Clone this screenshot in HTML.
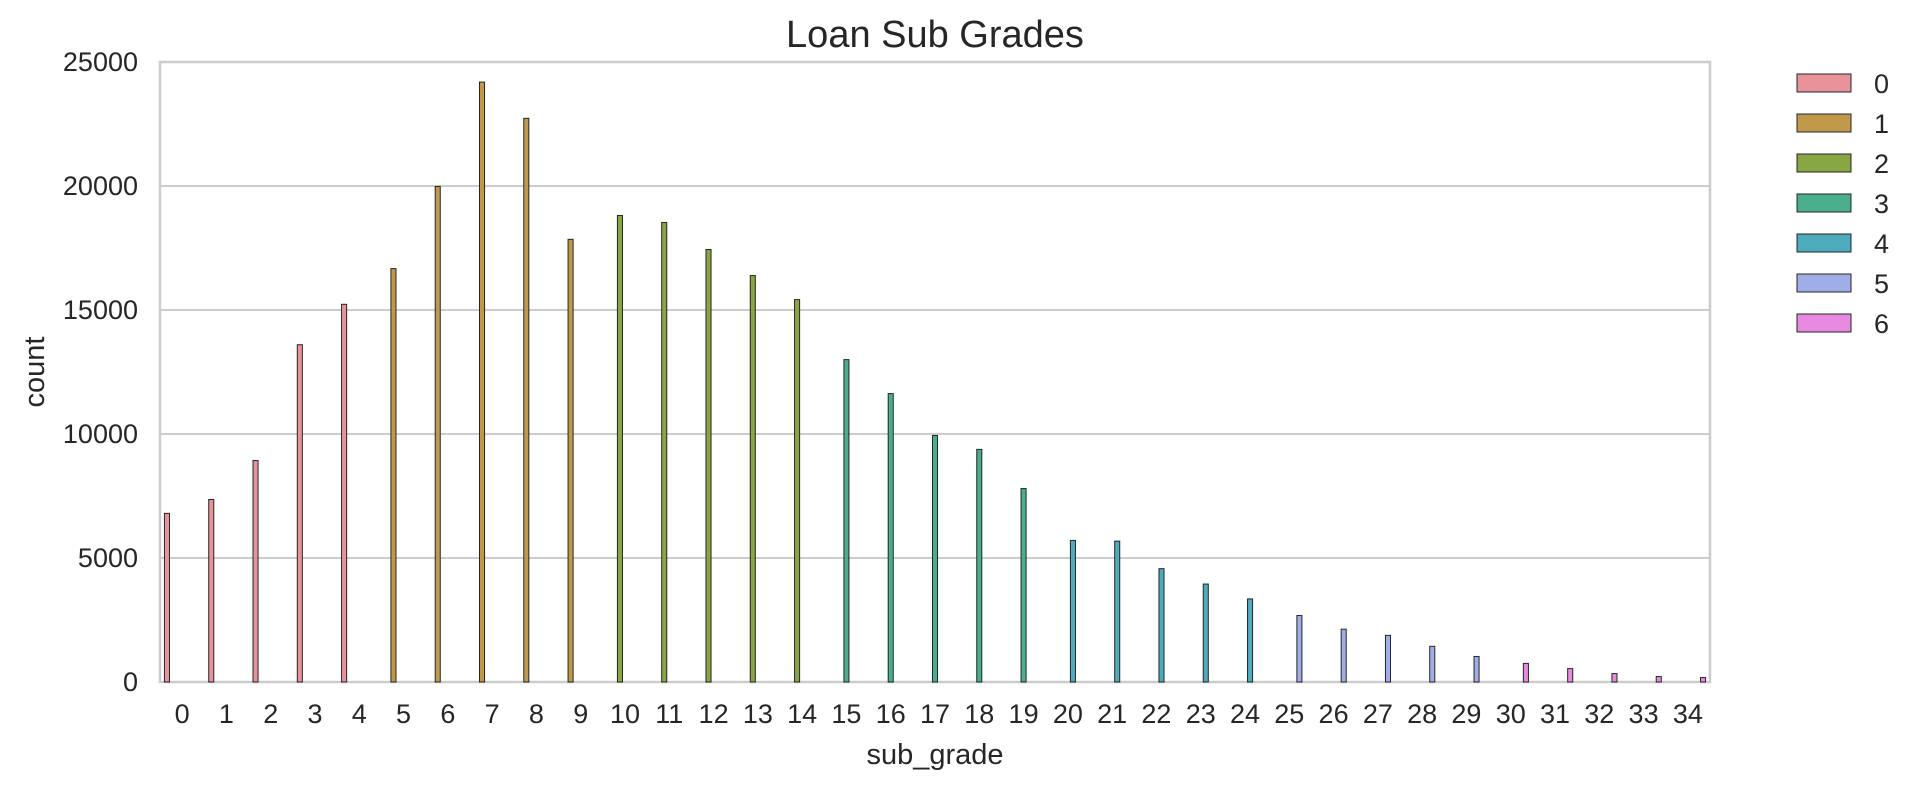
<!DOCTYPE html>
<html><head><meta charset="utf-8"><style>
html,body{margin:0;padding:0;background:#fff;}
svg{display:block;font-family:"Liberation Sans",Arial,sans-serif;}
</style></head><body>
<svg id="chart" width="1922" height="790" viewBox="0 0 1922 790" xmlns="http://www.w3.org/2000/svg">
<rect x="0" y="0" width="1922" height="790" fill="#fff"/>
<text x="935" y="47" text-anchor="middle" font-size="38" fill="#262626">Loan Sub Grades</text>
<text x="935" y="764" text-anchor="middle" font-size="29" fill="#262626">sub_grade</text>
<text transform="translate(44,372) rotate(-90)" text-anchor="middle" font-size="29" fill="#262626">count</text>
<g id="grid"></g>
<g id="bars"></g>
<g id="xticks"></g>
<g id="yticks"></g>
<g id="legend"></g>
</svg>
<script>
const categories = ["0","1","2","3","4","5","6","7","8","9","10","11","12","13","14","15","16","17","18","19","20","21","22","23","24","25","26","27","28","29","30","31","32","33","34"];
const counts = [6800,7360,8930,13600,15230,16670,19980,24190,22730,17850,18810,18530,17440,16390,15420,13000,11630,9940,9380,7800,5710,5680,4570,3950,3350,2680,2130,1880,1440,1030,750,540,340,220,180];
const hueOf = [0,0,0,0,0,1,1,1,1,1,2,2,2,2,2,3,3,3,3,3,4,4,4,4,4,5,5,5,5,5,6,6,6,6,6];
const hueLabels = ["0","1","2","3","4","5","6"];
const yTicks = [0,5000,10000,15000,20000,25000];

const colors = ["#e8939c","#c09a4a","#88a744","#4aae8c","#4eabbd","#a0aee8","#e88be0"];
const NS = "http://www.w3.org/2000/svg";
const L = 160, R = 1710, T = 62, B = 682, YMAX = 25000;
const bw = (R - L) / categories.length;
const yScale = v => B - v / YMAX * (B - T);
const xCenter = i => L + (i + 0.5) * bw;
const hueX = (i, h) => xCenter(i) + (-0.4 + h * 0.8 / hueLabels.length) * bw;
const barW = bw * 0.8 / hueLabels.length;

function mk(tag, attrs, parent) {
  const e = document.createElementNS(NS, tag);
  for (const k in attrs) e.setAttribute(k, attrs[k]);
  parent.appendChild(e);
  return e;
}
const grid = document.getElementById('grid');
yTicks.forEach(t => {
  const y = yScale(t);
  const ln = mk('line', {x1: L, x2: R, y1: y, y2: y, stroke: '#cccccc', 'stroke-width': 2}, grid);
  
  
  const tx = mk('text', {x: L - 22, y: y + 9, 'text-anchor': 'end', 'font-size': 27, fill: '#262626'}, document.getElementById('yticks'));
  tx.textContent = t;
  
  
});
const frame = mk('rect', {x: L, y: T, width: R - L, height: B - T, fill: 'none', stroke: '#cccccc', 'stroke-width': 2.5}, grid);



const bars = document.getElementById('bars');
counts.forEach((v, i) => {
  const h = hueOf[i];
  const x = hueX(i, h), y = yScale(v);
  const r = mk('rect', {x: x, y: y, width: barW, height: B - y, fill: colors[h], stroke: '#262626', 'stroke-width': 1}, bars);
  
  
  const tx = mk('text', {x: xCenter(i), y: 723, 'text-anchor': 'middle', 'font-size': 27, fill: '#262626'}, document.getElementById('xticks'));
  tx.textContent = categories[i];
  
  
});

const leg = document.getElementById('legend');
hueLabels.forEach((lab, h) => {
  const y = 74 + h * 40;
  const r = mk('rect', {x: 1797, y: y, width: 54, height: 18, fill: colors[h], stroke: '#262626', 'stroke-width': 1}, leg);
  
  
  const tx = mk('text', {x: 1874, y: y + 19, 'font-size': 27, fill: '#262626'}, leg);
  tx.textContent = lab;
  
  
});
</script>
</body></html>
